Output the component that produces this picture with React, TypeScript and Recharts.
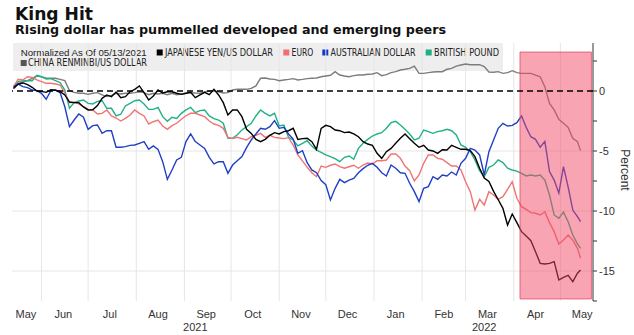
import React from 'react';
import { LineChart, Line, XAxis, YAxis, CartesianGrid, ReferenceArea, ReferenceLine } from 'recharts';

// Day offsets from 05/13/2021
const days = [
  1, 4, 7, 10, 13, 16, 19, 22, 25, 28, 31, 34, 37, 40, 43, 46, 49, 52, 55, 58, 61, 64, 67, 70, 73, 76, 79, 82, 85, 88,
  91, 94, 97, 100, 103, 106, 109, 112, 115, 118, 121, 124, 127, 130, 133, 136, 139, 142, 145, 148, 151, 154, 157, 160, 163, 166, 169, 172, 175, 178,
  181, 184, 187, 190, 193, 196, 199, 202, 205, 208, 211, 214, 217, 220, 223, 226, 229, 232, 235, 238, 241, 244, 247, 250, 253, 256, 259, 262, 265, 268, 271, 274,
  277, 280, 283, 286, 289, 292, 295, 298, 301, 304, 307, 310, 313, 316, 319, 322, 325, 328, 331, 334, 337, 340, 343, 346, 349, 352, 355, 358, 361, 364, 366,
];

const jpyUsd = [
  0.2, 0.58, 0.67, 0.53, 0.31, 0, -0.03, -0.11, 0.11, 0.06, -0.06, -0.33, -0.92, -0.97, -0.97, -1.33, -1.58, -1.56, -1.22, -0.61, -0.33, -0.47, -0.08, -0.56, -0.47, -0.06, 0.14, 0.42, -0.14, -0.75,
  -0.42, 0.08, -0.17, -0.06, -0.06, -0.19, -0.28, -0.19, -0.11, -0.56, -0.33, -0.11, -0.31, 0.14, -0.33, -0.97, -2.0, -1.58, -1.58, -2.14, -3.19, -3.53, -4.03, -4.22, -4.03, -3.69, -3.47, -3.58, -3.39, -3.31,
  -3.11, -4.03, -3.97, -3.94, -4.22, -4.86, -3.11, -2.86, -2.97, -3.25, -3.31, -3.47, -3.42, -3.58, -3.81, -4.22, -4.42, -4.53, -5.19, -5.61, -5.06, -4.78, -4.36, -3.94, -3.58, -3.97, -4.36, -4.69, -4.53, -4.92, -5.0, -5.2,
  -4.9, -4.92, -4.53, -4.69, -4.86, -4.86, -4.97, -5.47, -6.44, -7.25, -7.53, -8.36, -9.06, -9.78, -11.17, -10.25, -10.97, -11.72, -12.08, -12.47, -13.39, -14.36, -14.42, -14.36, -14.22, -15.75, -15.53, -15.36, -15.89, -15.19, -14.92,
];

const euro = [
  0.36, 0.97, 0.92, 1.19, 1.14, 0.92, 0.78, 0.64, 0.64, 0.58, 0.5, -0.19, -0.97, -0.94, -1.08, -1.31, -1.53, -1.58, -1.92, -1.86, -1.58, -2.08, -2.25, -2.5, -2.28, -2.0, -1.58, -1.86, -2.08, -2.75,
  -2.56, -2.42, -2.92, -3.19, -2.89, -2.69, -2.36, -2.06, -1.86, -1.86, -2.0, -2.14, -2.5, -2.75, -2.86, -3.11, -3.86, -3.97, -3.86, -3.97, -4.08, -3.81, -3.69, -3.53, -3.86, -3.69, -3.86, -3.92, -3.97, -3.89,
  -4.5, -5.33, -5.83, -6.36, -6.81, -7.14, -6.25, -6.36, -6.19, -6.08, -6.31, -6.44, -6.31, -6.19, -6.44, -6.17, -6.0, -6.08, -5.81, -5.81, -5.75, -5.25, -5.25, -5.61, -6.25, -6.64, -7.5, -7.0, -6.03, -5.33, -5.33, -5.61,
  -5.69, -5.97, -6.25, -6.25, -6.58, -7.56, -8.39, -9.92, -9.03, -9.5, -8.39, -8.67, -9.03, -8.81, -8.19, -7.56, -8.94, -9.64, -9.86, -10.14, -10.19, -10.33, -10.06, -10.97, -11.72, -12.75, -12.42, -12.0, -12.42, -13.11, -13.94,
];

const australianDollar = [
  0.36, 0.58, 0.36, 0.28, 0.08, 0.03, -0.19, -0.69, 0.03, 0.08, -0.14, -1.31, -2.97, -2.42, -1.92, -2.19, -3.19, -2.89, -2.83, -3.53, -3.31, -3.31, -4.69, -4.69, -4.64, -4.53, -4.5, -4.36, -4.22, -4.86,
  -4.58, -4.86, -5.89, -7.36, -6.58, -5.75, -5.53, -4.22, -3.58, -4.22, -4.5, -4.78, -5.53, -6.08, -5.89, -5.89, -6.86, -6.17, -5.81, -5.47, -4.72, -4.08, -3.58, -3.11, -3.19, -2.97, -2.47, -3.11, -3.03, -3.58,
  -4.0, -5.19, -4.97, -5.97, -6.58, -6.81, -7.47, -7.81, -9.08, -8.11, -7.36, -7.64, -7.42, -7.28, -6.81, -6.47, -6.19, -6.03, -6.36, -6.81, -7.08, -6.17, -6.44, -6.81, -6.86, -7.69, -8.39, -9.22, -8.11, -7.97, -7.14, -7.36,
  -7.0, -7.08, -6.75, -7.0, -6.03, -5.61, -4.78, -4.92, -5.33, -7.0, -5.06, -4.08, -3.11, -2.69, -2.92, -2.86, -2.64, -2.08, -3.03, -3.81, -4.03, -4.69, -4.2, -6.72, -7.42, -8.5, -6.3, -8.0, -9.92, -10.47, -10.89,
];

const britishPound = [
  0.3, 0.78, 0.86, 0.86, 0.86, 1.31, 1.19, 1.0, 1.03, 0.86, 0.69, 0.08, -1.44, -0.97, -0.83, -0.75, -1.03, -1.08, -0.86, -0.81, -1.44, -1.44, -2.08, -1.94, -1.25, -1.03, -0.81, -0.75, -1.08, -1.53,
  -1.53, -1.36, -2.14, -2.53, -2.19, -2.28, -1.86, -1.58, -1.36, -1.81, -1.64, -1.58, -2.08, -2.31, -2.42, -2.69, -3.94, -3.94, -3.64, -3.25, -2.97, -2.69, -2.08, -1.58, -1.86, -2.08, -1.86, -2.92, -2.83, -3.86,
  -4.08, -4.58, -4.36, -4.14, -4.58, -4.92, -5.11, -5.33, -5.47, -5.64, -5.89, -5.53, -5.42, -5.69, -4.78, -4.36, -4.03, -3.75, -3.58, -3.47, -3.11, -2.64, -2.53, -2.83, -3.19, -3.58, -4.08, -3.94, -3.25, -3.39, -3.53, -3.39,
  -3.31, -3.19, -3.31, -3.67, -4.5, -4.69, -5.06, -5.75, -6.64, -7.14, -6.36, -6.17, -5.75, -5.97, -6.44, -6.58, -6.67, -6.86, -7.08, -7.0, -7.08, -7.0, -7.42, -8.67, -10.33, -10.61, -10.1, -10.9, -12.0, -12.75, -13.11,
];

const cnyUsd = [
  0.22, 0.64, 0.75, 0.86, 1.06, 1.25, 1.19, 1.06, 1.06, 1.06, 0.97, 0.86, 0.03, -0.11, -0.19, -0.19, -0.28, -0.19, -0.14, -0.33, -0.47, -0.36, -0.19, -0.25, -0.19, -0.19, -0.14, -0.06, -0.14, -0.31,
  -0.19, -0.25, -0.19, -0.31, -0.19, -0.31, -0.25, -0.19, -0.14, -0.17, -0.19, -0.08, 0, 0, -0.06, -0.17, -0.14, 0.08, 0.14, 0.14, 0.14, 0.22, 0.42, 1.06, 1.08, 1.0, 0.97, 0.86, 0.92, 0.97,
  1.03, 0.92, 0.97, 1.03, 1.06, 1.08, 1.19, 1.25, 1.31, 1.61, 1.33, 1.25, 1.19, 1.28, 1.33, 1.33, 1.39, 1.42, 1.53, 1.28, 1.36, 1.53, 1.61, 1.75, 1.81, 1.89, 2.08, 1.47, 1.47, 1.53, 1.58, 1.61,
  1.61, 1.81, 1.89, 2.08, 2.17, 2.25, 2.19, 2.19, 2.19, 2.03, 1.58, 1.56, 1.61, 1.47, 1.53, 1.69, 1.53, 1.47, 1.47, 1.47, 1.33, 1.19, 0.36, -1.03, -1.58, -2.36, -2.69, -3.03, -3.94, -4.22, -4.97,
];

const monthTickDays = [9, 33, 63, 94, 125, 155, 186, 216, 247, 278, 306, 337, 367];
const monthLabels = ['May', 'Jun', 'Jul', 'Aug', 'Sep', 'Oct', 'Nov', 'Dec', 'Jan', 'Feb', 'Mar', 'Apr', 'May'];
const yearTickDays = [118, 304];
const yearLabels = ['2021', '2022'];
const monthStartDays = [19, 49, 80, 111, 141, 172, 202, 233, 264, 292, 323, 353];
const yTicks = [2.5, 0, -2.5, -5, -7.5, -10, -12.5, -15, -17.5];
const gridValues = [-5, -10, -15];
const shadedDays = [327, 373];
const shadedValues = [-17.33, 3.25];

const seriesKeys = ['cny', 'gbp', 'eur', 'aud', 'jpy'];
const seriesData: Record<string, number[]> = {
  jpy: jpyUsd, eur: euro, aud: australianDollar, gbp: britishPound, cny: cnyUsd,
};
const seriesColors: Record<string, string> = {
  jpy: '#000000', eur: '#f07474', aud: '#1f3fc4', gbp: '#21b088', cny: '#7c7c7c',
};

const legendNote = 'Normalized As Of 05/13/2021';
const legendNames = ['JAPANESE YEN/US DOLLAR', 'EURO', 'AUSTRALIAN DOLLAR', 'BRITISH POUND', 'CHINA RENMINBI/US DOLLAR'];
const legendColors = ['#000000', '#ef6f72', '#1438c8', '#1fae85', '#555555'];

const title = 'King Hit';
const subtitle = 'Rising dollar has pummelled developed and emerging peers';

const rows = days.map((d, i) => {
  const r: Record<string, number> = { d };
  Object.keys(seriesData).forEach((k) => { r[k] = seriesData[k][i]; });
  return r;
});

const noteFont = "'Liberation Sans', Arial, sans-serif";
const nameFont = "'Liberation Sans Narrow', 'Arial Narrow', 'DejaVu Sans Condensed', sans-serif";
const tickFont = "'Liberation Sans', Arial, sans-serif";

export default function App() {
  const row1Sq = [156.7, 283.3, 322.3, 425.7];
  const row1W = [108, 21.7, 85, 65];
  return (
    <div style={{ position: 'absolute', left: 0, top: 0, width: 634, height: 335, background: '#fff', overflow: 'hidden' }}>
      <svg width={634} height={335} style={{ position: 'absolute', left: 0, top: 0 }}>
        <text x={15} y={20} fontFamily="'DejaVu Sans', sans-serif" fontWeight="bold" fontSize={17.5} fill="#111" textLength={78} lengthAdjust="spacingAndGlyphs">{title}</text>
        <text x={15} y={34.3} fontFamily="'DejaVu Sans', sans-serif" fontWeight="bold" fontSize={12.8} fill="#111" textLength={431} lengthAdjust="spacingAndGlyphs">{subtitle}</text>
        <rect x={13} y={43} width={490} height={28} fill="#eeeeee" />
        <text x={20.7} y={56} fontFamily={noteFont} fontSize={9.5} fill="#222" textLength={126} lengthAdjust="spacingAndGlyphs">{legendNote}</text>
        {legendNames.slice(0, 4).map((n, i) => (
          <g key={n}>
            <rect x={row1Sq[i]} y={49.5} width={6} height={6} fill={legendColors[i]} />
            <text x={row1Sq[i] + 8.3} y={56} fontFamily={nameFont} fontSize={10} fill="#222" textLength={row1W[i]} lengthAdjust="spacingAndGlyphs">{n}</text>
          </g>
        ))}
        <rect x={20.7} y={60} width={6} height={6} fill={legendColors[4]} />
        <text x={28} y={66.2} fontFamily={nameFont} fontSize={10} fill="#222" textLength={119} lengthAdjust="spacingAndGlyphs">{legendNames[4]}</text>
        <text x={625} y={170} transform="rotate(90 625 170)" textAnchor="middle" dominantBaseline="central" fontFamily={tickFont} fontSize={12} fill="#333">Percent</text>
      </svg>
      <div style={{ position: 'absolute', left: 0, top: 0 }}>
        <LineChart width={634} height={335} data={rows} margin={{ top: 43, right: 0, bottom: 6, left: 12 }}>
          <CartesianGrid xAxisId="main" stroke="#e6e6e6" strokeWidth={1} verticalValues={monthStartDays} horizontalValues={gridValues} />
          <XAxis xAxisId="main" dataKey="d" type="number" domain={[0, 374]} ticks={monthTickDays} interval={0}
            tickFormatter={(v: number) => monthLabels[monthTickDays.indexOf(v)]}
            axisLine={false} tickLine={false} tickSize={0} tickMargin={9} height={14}
            tick={{ fontFamily: tickFont, fontSize: 11, fill: '#333' }} />
          <XAxis xAxisId="year" dataKey="d" type="number" domain={[0, 374]} ticks={yearTickDays} interval={0}
            tickFormatter={(v: number) => yearLabels[yearTickDays.indexOf(v)]}
            axisLine={false} tickLine={false} tickSize={0} tickMargin={8} height={14}
            tick={{ fontFamily: tickFont, fontSize: 11, fill: '#333' }} />
          <YAxis orientation="right" type="number" domain={[-17.5, 4]} ticks={yTicks} interval={0} width={41}
            allowDataOverflow
            tickFormatter={(v: number) => (v % 5 === 0 ? String(v) : '')}
            axisLine={{ stroke: '#333' }} tickLine={{ stroke: '#333' }} tickSize={4} tickMargin={2}
            tick={{ fontFamily: tickFont, fontSize: 11, fill: '#333' }} />
          {seriesKeys.map((k) => (
            <Line key={k} xAxisId="main" dataKey={k} type="linear" stroke={seriesColors[k]} strokeWidth={1.4}
              dot={false} activeDot={false} isAnimationActive={false} />
          ))}
          <ReferenceArea xAxisId="main" x1={shadedDays[0]} x2={shadedDays[1]} y1={shadedValues[0]} y2={shadedValues[1]}
            fill="#f24a66" fillOpacity={0.5} stroke="#e0405a" strokeOpacity={0.7} zIndex={900} />
          <ReferenceLine xAxisId="main" y={0} stroke="#000" strokeWidth={1.5} strokeDasharray="6 4" zIndex={950} />
        </LineChart>
      </div>
    </div>
  );
}
